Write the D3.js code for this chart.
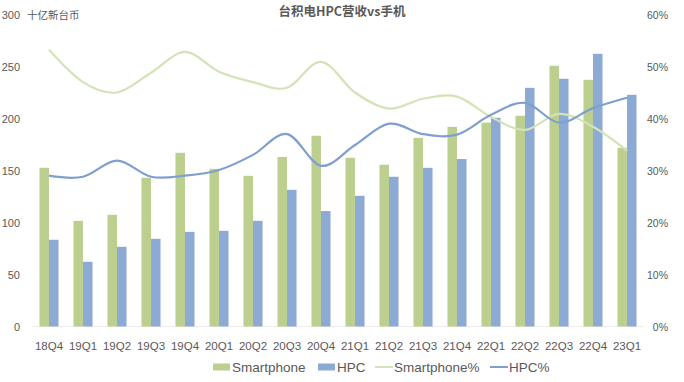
<!DOCTYPE html>
<html>
<head>
<meta charset="utf-8">
<script src="https://cdn.jsdelivr.net/npm/d3@7"></script>
<style>
  body { margin: 0; background: #fff; }
  text { font-family: "Liberation Sans", "Noto Sans CJK SC", sans-serif; fill: #595959; }
</style>
</head>
<body>
<script>
// quarters and values
var quarters = ["18Q4","19Q1","19Q2","19Q3","19Q4","20Q1","20Q2","20Q3","20Q4",
                "21Q1","21Q2","21Q3","21Q4","22Q1","22Q2","22Q3","22Q4","23Q1"];
var smartphone = [152.6,101.6,107.4,143,167,151.6,144.9,163,183.4,162.2,155.5,181.4,192,196,202.6,250.7,237.2,171.8];
var hpc = [83.4,62.2,76.6,84.3,91,92,101.6,131.4,111,125.7,144,152.6,161,200.7,229.5,238.2,262.2,222.8];
var smartphonePct = [0.532,0.47,0.45,0.488,0.528,0.49,0.47,0.459,0.509,0.45,0.419,0.438,0.442,0.403,0.378,0.409,0.384,0.338];
var hpcPct = [0.29,0.288,0.319,0.288,0.29,0.301,0.33,0.37,0.309,0.349,0.39,0.37,0.369,0.407,0.43,0.392,0.42,0.44];
var leftTicks = [0,50,100,150,200,250,300];
var rightTicks = [0,0.1,0.2,0.3,0.4,0.5,0.6];

var width = 684, height = 382;
var green = "#bccf8f", blue = "#8caad4";
var greenLine = "#d4e2b8", blueLine = "#7f9fcf";

var svg = d3.select("body").append("svg")
    .attr("width", width)
    .attr("height", height);

var x = d3.scaleBand().domain(quarters).range([32, 644]).paddingInner(0.44).paddingOuter(0.22);
var xSub = d3.scaleBand().domain(["s","h"]).range([0, x.bandwidth()]);
var y = d3.scaleLinear().domain([0, 300]).range([326.5, 14.5]);
var yPct = d3.scaleLinear().domain([0, 0.6]).range([326.5, 14.5]);

// baseline
svg.append("line")
    .attr("x1", 32).attr("x2", 644)
    .attr("y1", y(0)).attr("y2", y(0))
    .attr("stroke", "#ededed");

// left axis labels
svg.selectAll(".ltick")
    .data(leftTicks)
  .enter().append("text")
    .attr("class", "ltick")
    .attr("x", 20).attr("y", function(d) { return y(d) + 4; })
    .attr("text-anchor", "end")
    .style("font-size", "11px")
    .text(function(d) { return d; });

svg.append("text")
    .attr("x", 27).attr("y", y(300) + 4)
    .style("font-size", "10.5px")
    .style("font-family", "'Noto Sans CJK SC', sans-serif")
    .text("十亿新台币");

// right axis labels
svg.selectAll(".rtick")
    .data(rightTicks)
  .enter().append("text")
    .attr("class", "rtick")
    .attr("x", 668).attr("y", function(d) { return yPct(d) + 4; })
    .attr("text-anchor", "end")
    .style("font-size", "10.5px")
    .text(function(d) { return d3.format(".0%")(d); });

// title
svg.append("text")
    .attr("x", 342).attr("y", 16)
    .attr("text-anchor", "middle")
    .style("font-size", "12.5px")
    .style("font-weight", "bold")
    .style("font-family", "'Noto Sans CJK SC', sans-serif")
    .text("台积电HPC营收vs手机");

// bars
var groups = svg.selectAll(".grp")
    .data(quarters)
  .enter().append("g")
    .attr("class", "grp")
    .attr("transform", function(d) { return "translate(" + x(d) + ",0)"; });

groups.append("rect")
    .attr("x", xSub("s")).attr("width", xSub.bandwidth())
    .attr("y", function(d, i) { return y(smartphone[i]); })
    .attr("height", function(d, i) { return y(0) - y(smartphone[i]); })
    .attr("fill", green);

groups.append("rect")
    .attr("x", xSub("h")).attr("width", xSub.bandwidth())
    .attr("y", function(d, i) { return y(hpc[i]); })
    .attr("height", function(d, i) { return y(0) - y(hpc[i]); })
    .attr("fill", blue);

// smoothed percentage lines
var cx = function(d, i) { return x(quarters[i]) + x.bandwidth() / 2; };
var line = d3.line().x(cx).y(function(d) { return yPct(d); }).curve(d3.curveCatmullRom.alpha(0));

svg.append("path")
    .attr("d", line(smartphonePct))
    .attr("fill", "none")
    .attr("stroke", greenLine)
    .attr("stroke-width", 2.2);

svg.append("path")
    .attr("d", line(hpcPct))
    .attr("fill", "none")
    .attr("stroke", blueLine)
    .attr("stroke-width", 2.2);

// x labels
svg.selectAll(".xlab")
    .data(quarters)
  .enter().append("text")
    .attr("class", "xlab")
    .attr("x", function(d) { return x(d) + x.bandwidth() / 2; })
    .attr("y", 350)
    .attr("text-anchor", "middle")
    .style("font-size", "11.5px")
    .text(function(d) { return d; });

// legend
var legend = [
  {name: "Smartphone", type: "bar", color: green, x: 213},
  {name: "HPC", type: "bar", color: blue, x: 318},
  {name: "Smartphone%", type: "line", color: greenLine, x: 375},
  {name: "HPC%", type: "line", color: blueLine, x: 490}
];
var lg = svg.selectAll(".lg")
    .data(legend)
  .enter().append("g")
    .attr("class", "lg")
    .attr("transform", function(d) { return "translate(" + d.x + ",367)"; });

lg.filter(function(d) { return d.type === "bar"; })
  .append("rect")
    .attr("x", 0).attr("y", -3.5).attr("width", 17).attr("height", 7)
    .attr("fill", function(d) { return d.color; });

lg.filter(function(d) { return d.type === "line"; })
  .append("line")
    .attr("x1", 0).attr("x2", 18).attr("y1", 0).attr("y2", 0)
    .attr("stroke", function(d) { return d.color; })
    .attr("stroke-width", 2);

lg.append("text")
    .attr("x", 19).attr("y", 5)
    .style("font-size", "13.5px")
    .text(function(d) { return d.name; });
</script>
</body>
</html>
